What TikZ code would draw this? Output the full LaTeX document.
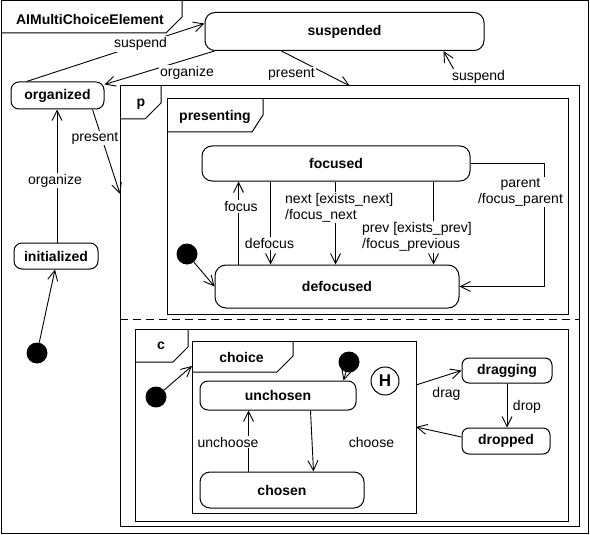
\documentclass[tikz,border=0pt]{standalone}
\usepackage{fontspec}
\setmainfont{Liberation Sans}
\usetikzlibrary{arrows.meta}
\begin{document}
\begin{tikzpicture}[x=1pt,y=-1pt,
  every node/.style={font=\fontsize{14}{16}\selectfont},
  stt/.style={draw, line width=1pt, rounded corners=8pt, font=\fontsize{14}{16}\selectfont\bfseries, inner sep=0pt},
  lbl/.style={fill=white, inner sep=1pt},
  arr/.style={line width=0.9pt, -{Straight Barb[length=10pt,width=10pt,line width=0.9pt]}},
  frm/.style={line width=1pt},
  dot/.style={circle, fill=black, inner sep=0pt, minimum size=21pt},
  ttl/.style={font=\fontsize{14}{16}\selectfont\bfseries, inner sep=0pt},
]
\useasboundingbox (0,0) rectangle (590,535);
% outer frame
\draw[frm] (1,1) rectangle (588,533);
\draw[frm] (1,33) -- (166,33) -- (182,17) -- (182,1);
\node[ttl] (title) at (90,19) {AIMultiChoiceElement};
% concurrent region
\draw[frm] (120,86) rectangle (579,526);
\draw[frm] (120,119) -- (145,119) -- (161,103) -- (161,86);
\node[ttl] (ptab) at (141,104.5) {p};
\draw[frm, dash pattern=on 8pt off 5pt] (120,319) -- (579,319);
% presenting
\draw[frm] (167,99) rectangle (568,314);
\draw[frm] (167,132) -- (252,132) -- (263,115) -- (263,99);
\node[ttl] (prestab) at (215,117) {presenting};
% c region
\draw[frm] (135,329) rectangle (568,521);
\draw[frm] (135,362) -- (173,362) -- (188,347) -- (188,329);
\node[ttl] (ctab) at (161,346) {c};
% choice
\draw[frm] (192,341) rectangle (416,513);
\draw[frm] (192,372) -- (277,372) -- (293,356) -- (293,341);
\node[ttl] (choicetab) at (241.5,357) {choice};

% coordinates on region borders
\coordinate (pTop) at (350,86);
\coordinate (pTopR) at (463,86);
\coordinate (pLeft) at (120,194);
\coordinate (choL) at (192,366);
\coordinate (choR1) at (416,385);
\coordinate (choR2) at (416,427);

% states
\node[stt, minimum width=279pt, minimum height=38pt, rounded corners=10pt] (suspended) at (344.5,31.5) {suspended};
\node[stt, minimum width=93pt, minimum height=27pt] (organized) at (57.5,95.5) {organized};
\node[stt, minimum width=84pt, minimum height=26pt] (initialized) at (56,256) {initialized};
\node[stt, minimum width=268pt, minimum height=35pt, rounded corners=10pt] (focused) at (336,163.5) {focused};
\node[stt, minimum width=244pt, minimum height=43pt, rounded corners=11pt] (defocused) at (337,286.5) {defocused};
\node[stt, minimum width=156pt, minimum height=29pt] (unchosen) at (278,395.5) {unchosen};
\node[stt, minimum width=164pt, minimum height=36pt, rounded corners=10pt] (chosen) at (282,490) {chosen};
\node[stt, minimum width=90pt, minimum height=25pt, rounded corners=7pt] (dragging) at (507,370.5) {dragging};
\node[stt, minimum width=88pt, minimum height=26pt, rounded corners=7pt] (dropped) at (506,441) {dropped};
\node[draw, circle, line width=1pt, minimum size=28pt, inner sep=0pt, font=\fontsize{17}{18}\selectfont\bfseries] (hist) at (385,381) {H};

% initial pseudostates
\node[dot] (init0) at (37,353) {};
\node[dot] (initP) at (187,254) {};
\node[dot] (initC) at (156,397) {};
\node[dot] (initCh) at (349,362) {};

% top-level transitions
\draw[arr] (init0) -- ([xshift=-1pt]initialized.south);
\draw[arr] ([xshift=1pt]initialized.north) -- ([xshift=1pt]initialized.north |- organized.south);
\draw[arr] ([xshift=16pt]organized.north west) -- ([yshift=8pt]suspended.west);
\draw[arr] ([xshift=10pt]suspended.south west) -- ([yshift=-3pt]organized.north east);
\draw[arr] ([xshift=77pt]suspended.south west) -- (pTop);
\draw[arr] (pTopR) -- ([xshift=-41pt]suspended.south east);
\draw[arr] ([xshift=-12pt]organized.south east) -- (pLeft);

% presenting transitions
\draw[arr] (initP) -- (defocused.west);
\draw[arr] ([xshift=24pt]defocused.north west) -- ([xshift=24pt]defocused.north west |- focused.south);
\draw[arr] ([xshift=69pt]focused.south west) -- ([xshift=69pt]focused.south west |- defocused.north);
\draw[arr] ([xshift=134pt]focused.south west) -- ([xshift=134pt]focused.south west |- defocused.north);
\draw[arr] ([xshift=232pt]focused.south west) -- ([xshift=232pt]focused.south west |- defocused.north);
\draw[arr] (focused.east) -- ++(74pt,0) |- (defocused.east);

% choice transitions
\draw[arr] (initC) -- (choL);
\draw[arr] (initCh) -- ([xshift=-13pt]unchosen.north east);
\draw[arr] ([xshift=49pt]chosen.north west) -- ([xshift=49pt]chosen.north west |- unchosen.south);
\draw[arr] ([xshift=111pt]unchosen.south west) -- ([xshift=114pt]chosen.north west);
\draw[arr] (choR1) -- (dragging.west);
\draw[arr] (dragging.south) -- (dragging.south |- dropped.north);
\draw[arr] ([yshift=4pt]dropped.west) -- (choR2);

% labels
\node[lbl] (lsusp1) at (140.5,44) {suspend};
\node[lbl] (lorg1) at (187,73) {organize};
\node[lbl] (lpres1) at (291.5,74) {present};
\node[lbl] (lsusp2) at (478.5,77) {suspend};
\node[lbl] (lpres2) at (95,138) {present};
\node[lbl] (lorg2) at (55,180.5) {organize};
\node[lbl] (lfocus) at (241,206.5) {focus};
\node[lbl] (ldefocus) at (269.5,243.5) {defocus};
\node[lbl, align=left, anchor=west] (lnext) at (284,207.5) {next [exists\_next]\\/focus\_next};
\node[lbl, align=left, anchor=west] (lprev) at (361,237) {prev [exists\_prev]\\/focus\_previous};
\node[lbl, align=center] (lparent) at (520.5,192) {parent\\/focus\_parent};
\node[lbl] (lunch) at (228,442) {unchoose};
\node[lbl] (lch) at (371.5,442) {choose};
\node[lbl] (ldrag) at (446.5,394) {drag};
\node[lbl] (ldrop) at (527,407) {drop};
\end{tikzpicture}
\end{document}
